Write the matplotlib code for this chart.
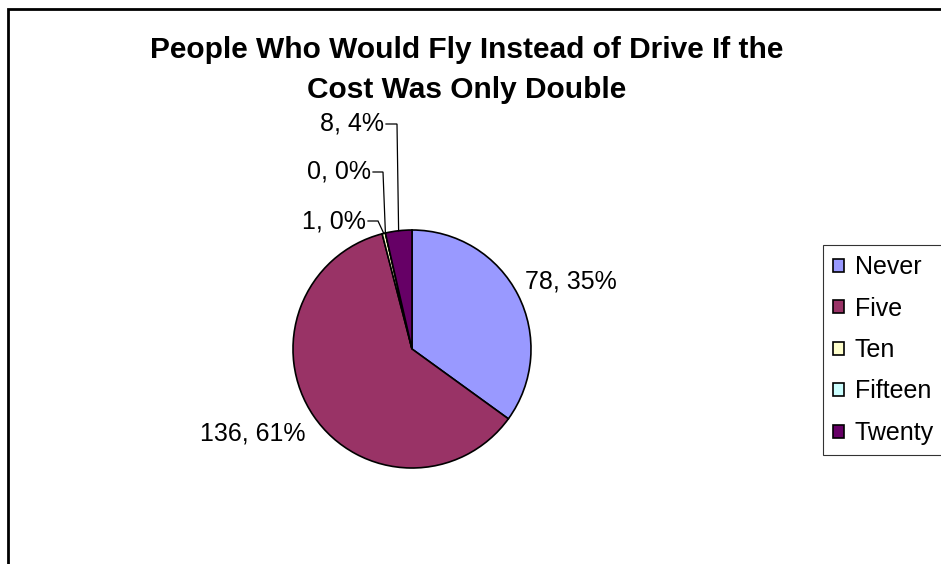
import matplotlib
matplotlib.use("Agg")
import matplotlib.pyplot as plt
from matplotlib.patches import Rectangle
import numpy as np

categories = ["Never", "Five", "Ten", "Fifteen", "Twenty"]
values = [78, 136, 1, 0, 8]
colors = ["#9999FF", "#993366", "#FFFFCC", "#CCFFFF", "#660066"]
title = "People Who Would Fly Instead of Drive If the\nCost Was Only Double"

W, H = 941, 564
plt.rcParams['font.family'] = ['Liberation Sans', 'DejaVu Sans']
fig = plt.figure(figsize=(W / 100, H / 100), dpi=100)
ax = fig.add_axes([0, 0, 1, 1])

def py(y):
    return H - y

cx, cy, r = 412, py(349), 119
wedges, _ = ax.pie(values, colors=colors, startangle=90, counterclock=False,
                   center=(cx, cy), radius=r,
                   wedgeprops=dict(edgecolor="black", linewidth=1.2))
ax.set_xlim(0, W)
ax.set_ylim(0, H)
ax.set_aspect('equal')
ax.axis('off')

total = sum(values)
labels = [f"{v}, {round(100 * v / total)}%" for v in values]

# label anchor positions (pixel coords) and alignment
pos = {
    0: (571, 281, 'center'),
    1: (253, 433, 'center'),
    2: (366, 221, 'right'),
    3: (371, 172, 'right'),
    4: (384, 124, 'right'),
}
fs = 18
for i, (x, y, ha) in pos.items():
    ax.text(x, py(y), labels[i], ha=ha, va='center', fontsize=fs, color='black')

# leader lines for small slices
def wedge_point(i):
    w = wedges[i]
    ang = np.deg2rad((w.theta1 + w.theta2) / 2)
    return cx + r * np.cos(ang), cy + r * np.sin(ang)

leader_start = {2: (368, 221, 378), 3: (373, 172, 383), 4: (386, 124, 397)}
for i, (x0, y0, x1) in leader_start.items():
    px, pyy = wedge_point(i)
    ax.plot([x0, x1, px], [py(y0), py(y0), pyy], color='black', lw=0.9,
            solid_joinstyle='miter')

# title
ax.text(467, py(70), title, ha='center', va='center', fontsize=21.5,
        fontweight='bold', linespacing=1.56)

# chart border (top and left visible)
ax.add_patch(Rectangle((8.5, -20), 1000, py(8.5) + 20, fill=False,
                       edgecolor='black', lw=2.0, clip_on=False))

leg = ax.legend(wedges, categories, loc='upper left',
                bbox_to_anchor=(823 / W, 1 - 245 / H), borderaxespad=0,
                fontsize=fs, handlelength=0.42, handleheight=0.42,
                handletextpad=0.45, labelspacing=0.70, borderpad=0.4,
                frameon=True, fancybox=False, shadow=False)
fr = leg.get_frame()
fr.set_edgecolor('black')
fr.set_linewidth(0.8)

fig.savefig("out.png", dpi=100)
